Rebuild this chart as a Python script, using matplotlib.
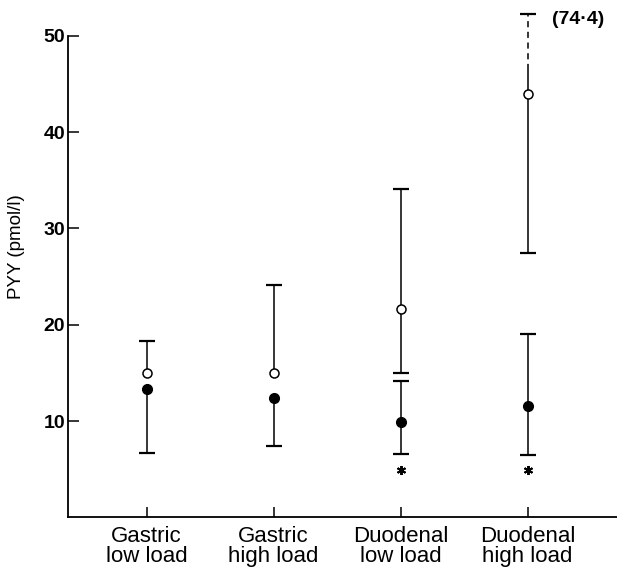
import numpy as np
import matplotlib
matplotlib.use("Agg")
import matplotlib.pyplot as plt

# ---- data ----
categories = ["Gastric\nlow load", "Gastric\nhigh load", "Duodenal\nlow load", "Duodenal\nhigh load"]
open_mean = [15.0, 15.0, 21.6, 44.0]
open_upper = [18.3, 24.1, 34.1, 52.3]
open_lower = [np.nan, np.nan, 14.95, 27.4]
open_dashed_from = [np.nan, np.nan, np.nan, 46.4]   # upper bar drawn dashed above this value
filled_mean = [13.3, 12.4, 9.9, 11.55]
filled_upper = [np.nan, np.nan, 14.2, 19.0]
filled_lower = [6.65, 7.4, 6.6, 6.5]
signif = [False, False, True, True]
signif_y = 4.9
offscale_label = "(74·4)"
offscale_idx = 3
yticks = [10, 20, 30, 40, 50]

plt.rcParams['font.family'] = ['Liberation Sans', 'DejaVu Sans']

fig = plt.figure(figsize=(6.17, 5.72), dpi=100)
ax = fig.add_axes([0.1102, 0.0956, 0.889, 0.9007])

x = np.arange(1, len(categories) + 1)
lw = 1.1
capsize = 12
capw = 1.6

def bar(xi, y0, y1, ls='-'):
    ax.vlines(xi, y0, y1, colors='black', linewidth=lw, linestyles=ls, zorder=2)

for i, xi in enumerate(x):
    # open circle bars
    top_solid = open_upper[i] if np.isnan(open_dashed_from[i]) else open_dashed_from[i]
    bar(xi, open_mean[i], top_solid)
    if not np.isnan(open_dashed_from[i]):
        bar(xi, open_dashed_from[i], open_upper[i], ls=(0, (4, 3)))
    ax.plot(xi, open_upper[i], marker='_', ms=capsize, mew=capw, color='black', zorder=3)
    if not np.isnan(open_lower[i]):
        bar(xi, open_lower[i], open_mean[i])
        ax.plot(xi, open_lower[i], marker='_', ms=capsize, mew=capw, color='black', zorder=3)
    # filled circle bars
    bar(xi, filled_lower[i], filled_mean[i])
    ax.plot(xi, filled_lower[i], marker='_', ms=capsize, mew=capw, color='black', zorder=3)
    if not np.isnan(filled_upper[i]):
        bar(xi, filled_mean[i], filled_upper[i])
        ax.plot(xi, filled_upper[i], marker='_', ms=capsize, mew=capw, color='black', zorder=3)

ax.plot(x, open_mean, linestyle='none', marker='o', ms=6.5, mfc='white', mec='black', mew=1.1, zorder=4)
ax.plot(x, filled_mean, linestyle='none', marker='o', ms=7, mfc='black', mec='black', zorder=4)

sx = [xi for xi, s in zip(x, signif) if s]
ax.plot(sx, [signif_y] * len(sx), linestyle='none', marker=(6, 2, 0), ms=6.5, mew=1.4, color='black', zorder=4)

ax.text(x[offscale_idx] + 0.19, 51.7, offscale_label, fontsize=14, fontweight='bold', ha='left', va='center')

ax.set_xlim(0.38, 4.7)
ax.set_ylim(0, 53.5)
ax.set_xticks(x)
ax.set_xticklabels(categories, fontsize=16, linespacing=0.95)
ax.set_yticks(yticks)
ax.set_yticklabels([str(t) for t in yticks], fontsize=14, fontweight='bold')
ax.tick_params(axis='y', direction='in', length=8, width=1.1, pad=2)
ax.tick_params(axis='x', direction='in', length=7, width=1.1, pad=6)
for s in ['top', 'right']:
    ax.spines[s].set_visible(False)
for s in ['left', 'bottom']:
    ax.spines[s].set_linewidth(1.3)
ax.spines['left'].set_bounds(0, 50)

ax.set_ylabel("PYY (pmol/l)", fontsize=13.5)
ax.yaxis.set_label_coords(-0.093, 0.525)
ax.yaxis.label.set_va('center')

fig.savefig("out.png", dpi=100)
